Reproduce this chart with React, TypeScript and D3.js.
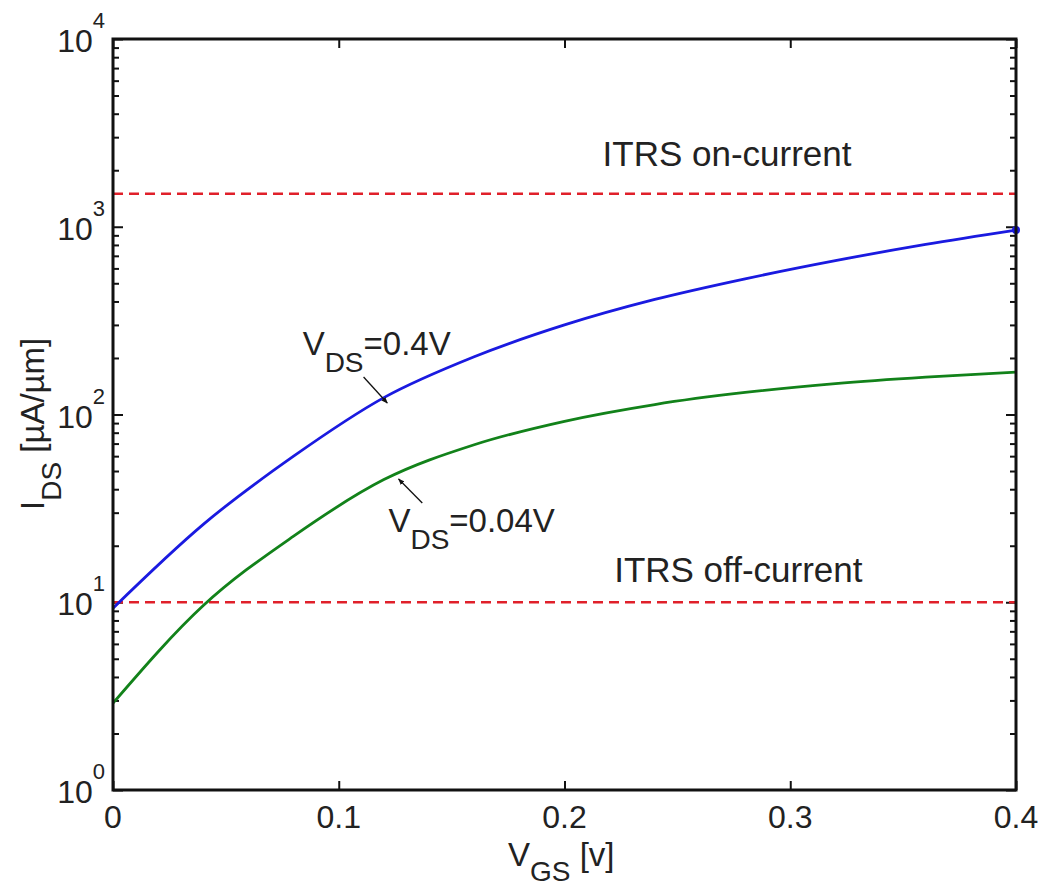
import React, { useEffect, useRef } from "react";
import * as d3 from "d3";

// gate voltage sweep [V]
const vgs = [0, 0.04, 0.08, 0.12, 0.16, 0.2, 0.24, 0.28, 0.32, 0.36, 0.4];
// drain current [uA/um] for the two drain biases
const idsHigh = [9.3, 26, 60, 123, 203, 300, 410, 528, 660, 805, 960];
const idsLow = [2.9, 9.6, 22.5, 45, 69, 92, 113, 131, 146, 158, 168];
const seriesNames = ["0.4V", "0.04V"];

// ITRS targets [uA/um]
const itrsOn = 1500;
const itrsOff = 10;

const xTicks = [0, 0.1, 0.2, 0.3, 0.4];
const yDecades = [1, 10, 100, 1000, 10000];

export default function App() {
  const ref = useRef<SVGSVGElement>(null);

  useEffect(() => {
    const W = 1043,
      H = 892;
    const margin = { top: 39, right: 27, bottom: 102, left: 113 };
    const w = W - margin.left - margin.right,
      h = H - margin.top - margin.bottom;

    const svg = d3.select(ref.current);
    svg.selectAll("*").remove();
    const font = "'Liberation Sans', Arial, sans-serif";

    const x = d3.scaleLinear().domain([0, 0.4]).range([0, w]);
    const y = d3.scaleLog().domain([1, 10000]).range([h, 0]);

    const g = svg
      .append("g")
      .attr("transform", `translate(${margin.left},${margin.top})`);

    // minor ticks for the log axis
    const minor: number[] = [];
    for (let d = 0; d < 4; d++)
      for (let k = 2; k <= 9; k++) minor.push(k * Math.pow(10, d));

    const styleAxis = (sel: any) => {
      sel.select(".domain").remove();
      sel.selectAll("line").attr("stroke", "#111").attr("stroke-width", 2);
      sel.selectAll("text").remove();
    };

    // ticks pointing inward on all four sides
    g.append("g").call(d3.axisLeft(y).tickValues(yDecades).tickSize(-10)).call(styleAxis);
    g.append("g").call(d3.axisLeft(y).tickValues(minor).tickSize(-6)).call(styleAxis);
    g.append("g")
      .attr("transform", `translate(${w},0)`)
      .call(d3.axisRight(y).tickValues(yDecades).tickSize(-10))
      .call(styleAxis);
    g.append("g")
      .attr("transform", `translate(${w},0)`)
      .call(d3.axisRight(y).tickValues(minor).tickSize(-6))
      .call(styleAxis);
    g.append("g")
      .attr("transform", `translate(0,${h})`)
      .call(d3.axisBottom(x).tickValues(xTicks).tickSize(-9))
      .call(styleAxis);
    g.append("g").call(d3.axisTop(x).tickValues(xTicks).tickSize(-9)).call(styleAxis);

    // tick labels
    g.selectAll(".xl")
      .data(xTicks)
      .join("text")
      .attr("x", (d) => x(d))
      .attr("y", h + 38)
      .attr("text-anchor", "middle")
      .attr("font-family", font)
      .attr("font-size", 32)
      .attr("fill", "#222")
      .text((d) => (d === 0 ? "0" : d3.format(".1f")(d)));

    const yl = g
      .selectAll(".yl")
      .data(yDecades)
      .join("text")
      .attr("x", -8)
      .attr("y", (d) => y(d) + 13)
      .attr("text-anchor", "end")
      .attr("font-family", font)
      .attr("font-size", 32)
      .attr("fill", "#222");
    yl.append("tspan").text("10");
    yl.append("tspan")
      .attr("dy", -24)
      .attr("font-size", 22)
      .text((d) => String(Math.round(Math.log10(d))));

    // ITRS reference lines
    g.selectAll(".ref")
      .data([itrsOn, itrsOff])
      .join("line")
      .attr("x1", 0)
      .attr("x2", w)
      .attr("y1", (d) => y(d))
      .attr("y2", (d) => y(d))
      .attr("stroke", "#e0202a")
      .attr("stroke-width", 2.5)
      .attr("stroke-dasharray", "10,6");

    const line = d3
      .line<number>()
      .x((_, i) => x(vgs[i]))
      .y((d) => y(d))
      .curve(d3.curveMonotoneX);

    g.append("path")
      .datum(idsLow)
      .attr("d", line)
      .attr("fill", "none")
      .attr("stroke", "#12821a")
      .attr("stroke-width", 2.8);
    g.append("path")
      .datum(idsHigh)
      .attr("d", line)
      .attr("fill", "none")
      .attr("stroke", "#1a1ae0")
      .attr("stroke-width", 2.8);
    g.append("circle")
      .attr("cx", x(vgs[vgs.length - 1]))
      .attr("cy", y(idsHigh[idsHigh.length - 1]))
      .attr("r", 4)
      .attr("fill", "#1a1ae0");

    // frame
    g.append("rect")
      .attr("width", w)
      .attr("height", h)
      .attr("fill", "none")
      .attr("stroke", "#111")
      .attr("stroke-width", 3);

    // text labels for the ITRS lines
    g.append("text")
      .attr("x", x(0.272))
      .attr("y", y(itrsOn) - 28)
      .attr("text-anchor", "middle")
      .attr("font-family", font)
      .attr("font-size", 35)
      .attr("fill", "#222")
      .text("ITRS on-current");
    g.append("text")
      .attr("x", x(0.277))
      .attr("y", y(itrsOff) - 20)
      .attr("text-anchor", "middle")
      .attr("font-family", font)
      .attr("font-size", 35)
      .attr("fill", "#222")
      .text("ITRS off-current");

    // annotations with arrows
    svg
      .append("defs")
      .append("marker")
      .attr("id", "ah")
      .attr("viewBox", "0 0 10 10")
      .attr("refX", 9)
      .attr("refY", 5)
      .attr("markerWidth", 5)
      .attr("markerHeight", 5)
      .attr("orient", "auto")
      .append("path")
      .attr("d", "M0,1L10,5L0,9Z")
      .attr("fill", "#111");

    const annots = [
      { name: seriesNames[0], tx: 0.084, ty: 355 - margin.top, ax: [0.111, 377 - margin.top] },
      { name: seriesNames[1], tx: 0.122, ty: 532 - margin.top, ax: [0.137, 503 - margin.top] },
    ];
    annots.forEach((a, k) => {
      const t = g
        .append("text")
        .attr("x", x(a.tx))
        .attr("y", a.ty)
        .attr("font-family", font)
        .attr("font-size", 33)
        .attr("fill", "#222");
      t.append("tspan").text("V");
      t.append("tspan").attr("dy", 17).attr("font-size", 28).text("DS");
      t.append("tspan").attr("dy", -17).text("=" + a.name);
      const ex = k === 0 ? x(0.1215) : x(0.1265);
      const ey = k === 0 ? y(118) + 2 : y(47) + 3;
      g.append("line")
        .attr("x1", x(a.ax[0]))
        .attr("y1", a.ax[1])
        .attr("x2", ex)
        .attr("y2", ey)
        .attr("stroke", "#111")
        .attr("stroke-width", 1.3)
        .attr("marker-end", "url(#ah)");
    });

    // axis titles
    const xt = svg
      .append("text")
      .attr("x", 508)
      .attr("y", 866)
      .attr("font-family", font)
      .attr("font-size", 33)
      .attr("fill", "#222");
    xt.append("tspan").text("V");
    xt.append("tspan").attr("dy", 15).attr("font-size", 28).text("GS");
    xt.append("tspan").attr("dy", -15).text(" [v]");

    const ytl = svg
      .append("text")
      .attr("transform", "translate(44,510) rotate(-90)")
      .attr("font-family", font)
      .attr("font-size", 33)
      .attr("fill", "#222");
    ytl.append("tspan").text("I");
    ytl.append("tspan").attr("dy", 17).attr("font-size", 28).text("DS");
    ytl.append("tspan").attr("dy", -17).text(" [\u00b5A/\u00b5m]");
  }, []);

  return (
    <svg
      ref={ref}
      width={1043}
      height={892}
      style={{ position: "absolute", left: 0, top: 0, background: "#fff" }}
    />
  );
}
